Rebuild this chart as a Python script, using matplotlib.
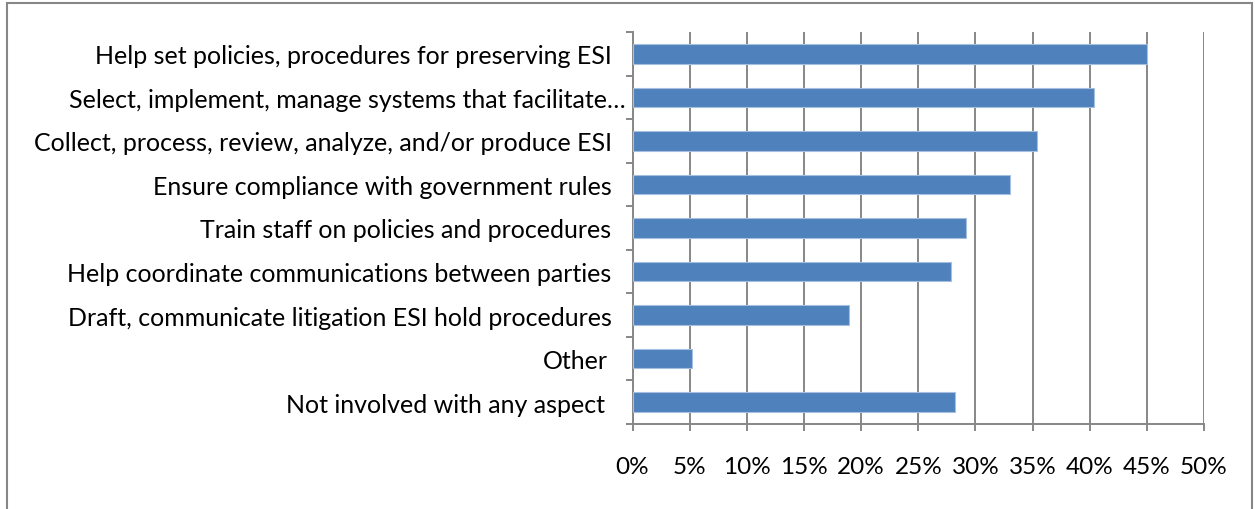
import matplotlib
matplotlib.use("Agg")
import matplotlib.pyplot as plt
from matplotlib.patches import Rectangle
from matplotlib.transforms import ScaledTranslation
import numpy as np

categories = [
    "Help set policies, procedures for preserving ESI",
    "Select, implement, manage systems that facilitate…",
    "Collect, process, review, analyze, and/or produce ESI",
    "Ensure compliance with government rules",
    "Train staff on policies and procedures",
    "Help coordinate communications between parties",
    "Draft, communicate litigation ESI hold procedures",
    "Other",
    "Not involved with any aspect",
]
values = [45.0, 40.4, 35.4, 33.0, 29.2, 27.9, 18.9, 5.2, 28.2]
xticks = [0, 5, 10, 15, 20, 25, 30, 35, 40, 45, 50]
xticklabels = [f"{t}%" for t in xticks]

FONT = "Lato"
FS = 17.5
FSY = 18
plt.rcParams['font.family'] = [FONT, 'DejaVu Sans']

W, H = 1255, 510
fig = plt.figure(figsize=(W / 100, H / 100), dpi=100)
ax = fig.add_axes([632.5 / W, (H - 425) / H, (1204 - 632.5) / W, (425 - 33) / H])

n = len(categories)
ypos = np.arange(n)[::-1]
ax.barh(ypos, values, height=0.45, color="#4F81BD", edgecolor="#A7BFDE", linewidth=0.8, zorder=3)

ax.set_xlim(0, 50)
ax.set_ylim(-0.5, n - 0.5)
ax.set_xticks(xticks)
ax.set_xticklabels(xticklabels, fontsize=FS, color="black")
ax.set_yticks(ypos)
ax.set_yticklabels(categories, fontsize=FSY, color="black")
ax.set_yticks(np.arange(n + 1) - 0.5, minor=True)

gc = "#878787"
ax.grid(axis="x", color=gc, linewidth=1.4, zorder=0)
ax.set_axisbelow(True)
for s in ["top", "right"]:
    ax.spines[s].set_visible(False)
for s in ["left", "bottom"]:
    ax.spines[s].set_color(gc)
    ax.spines[s].set_linewidth(1.4)

ax.tick_params(axis="y", which="major", length=0, pad=5)
ax.tick_params(axis="y", which="minor", length=5, width=1.4, color=gc, direction="out")
ax.tick_params(axis="x", which="major", length=5, width=1.4, color=gc, direction="out", pad=18)

# Excel-like extra spacing for most labels (truncated one sits closer)
shifts = [-14, 0, -14, -14, -14, -14, -14, -18, -21]
for lab, sh in zip(ax.get_yticklabels(), shifts):
    lab.set_transform(lab.get_transform() + ScaledTranslation(sh / 100, 0, fig.dpi_scale_trans))

# chart frame
fig.patches.append(Rectangle((7 / W, -0.1), (1252 - 7) / W, 1.1 - 4 / H,
                             transform=fig.transFigure, fill=False,
                             edgecolor=gc, linewidth=1.5, clip_on=False))

fig.savefig("out.png", dpi=100)
